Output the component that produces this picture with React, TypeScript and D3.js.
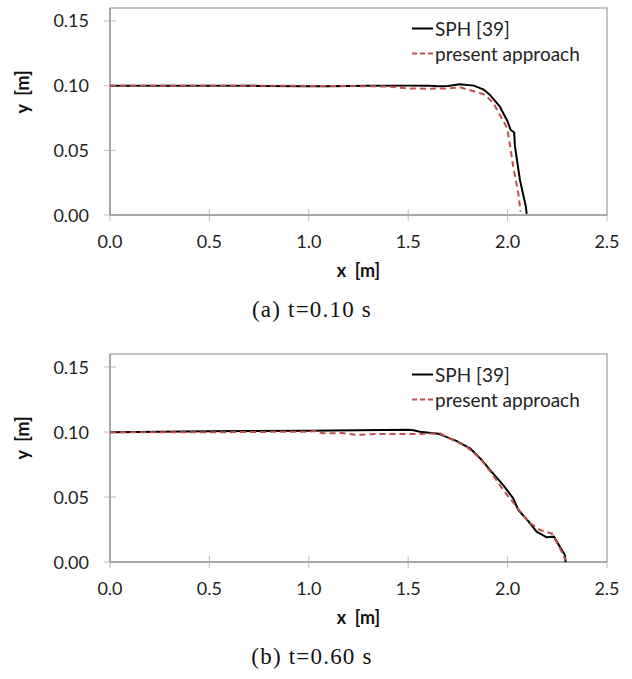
import React from 'react';
import * as d3 from 'd3';

// panel (a) t = 0.10 s
const sphAX = [0, 0.25, 0.5, 0.75, 1.0, 1.05, 1.1, 1.3, 1.5, 1.6, 1.65, 1.7, 1.76, 1.83, 1.88, 1.91, 1.96, 2.0, 2.015, 2.033, 2.037, 2.062, 2.092, 2.096];
const sphAY = [0.1, 0.1, 0.1, 0.0998, 0.0996, 0.0995, 0.0996, 0.0999, 0.1, 0.1, 0.0995, 0.0998, 0.101, 0.1, 0.097, 0.093, 0.084, 0.0723, 0.0659, 0.0638, 0.053, 0.0271, 0.0064, 0.0008];
const presAX = [0, 0.5, 1.0, 1.2, 1.3, 1.4, 1.5, 1.6, 1.7, 1.76, 1.83, 1.886, 1.928, 1.97, 1.998, 2.008, 2.028, 2.054, 2.065];
const presAY = [0.1, 0.1, 0.0998, 0.0997, 0.0995, 0.0993, 0.0978, 0.0976, 0.0979, 0.0987, 0.0956, 0.093, 0.0866, 0.075, 0.067, 0.058, 0.0375, 0.0168, 0.0026];

// panel (b) t = 0.60 s
const sphBX = [0, 0.5, 1.0, 1.5, 1.526, 1.559, 1.651, 1.744, 1.811, 1.87, 1.911, 1.978, 2.028, 2.054, 2.104, 2.146, 2.196, 2.233, 2.263, 2.288, 2.292];
const sphBY = [0.0998, 0.1005, 0.101, 0.1018, 0.1013, 0.1002, 0.0987, 0.093, 0.0874, 0.0785, 0.0708, 0.0592, 0.049, 0.04, 0.0315, 0.0233, 0.019, 0.0195, 0.0118, 0.0054, 0];
const presBX = [0, 0.5, 1.0, 1.03, 1.07, 1.17, 1.24, 1.35, 1.55, 1.66, 1.71, 1.794, 1.861, 1.92, 1.978, 2.045, 2.104, 2.163, 2.222, 2.255, 2.292];
const presBY = [0.0998, 0.0998, 0.1003, 0.1008, 0.099, 0.0992, 0.0978, 0.0985, 0.0985, 0.099, 0.095, 0.0887, 0.0797, 0.0682, 0.0554, 0.0425, 0.031, 0.0246, 0.022, 0.0131, 0.0015];

const xTicks = [0, 0.5, 1.0, 1.5, 2.0, 2.5];
const yTicks = [0, 0.05, 0.1, 0.15];
const legendLabels = ['SPH [39]', 'present approach'];

const FONT = 'Lato, "Open Sans", sans-serif';
const RED = '#c0504d';

const Panel = ({ top, bottom, sx, sy, px, py, caption }) => {
  const left = 110;
  const right = 607;
  const x = d3.scaleLinear().domain([0, 2.5]).range([left, right]);
  const y = d3.scaleLinear().domain([0, 0.16]).range([bottom, top]);
  const line = d3.line().x(d => x(d[0])).y(d => y(d[1]));
  const sph = sx.map((v, i) => [v, sy[i]]);
  const pres = px.map((v, i) => [v, py[i]]);

  return (
    <g>
      <rect x={left} y={top} width={right - left} height={bottom - top} fill="white" stroke="#8c8c8c" strokeWidth={1} />
      {/* ticks */}
      {xTicks.map(t => (
        <g key={'x' + t}>
          <line x1={x(t)} x2={x(t)} y1={bottom - 6} y2={bottom + 6} stroke="#bdbdbd" />
          <text x={x(t)} y={bottom + 33} textAnchor="middle" fontSize={18} fontFamily={FONT} fill="#222">
            {d3.format('.1f')(t)}
          </text>
        </g>
      ))}
      {yTicks.map(t => (
        <g key={'y' + t}>
          <line x1={left - 6} x2={left + 6} y1={y(t)} y2={y(t)} stroke="#bdbdbd" />
          <text x={89} y={y(t) + 6.5} textAnchor="end" fontSize={18} fontFamily={FONT} fill="#222">
            {d3.format('.2f')(t)}
          </text>
        </g>
      ))}
      <line x1={left} x2={right} y1={bottom} y2={bottom} stroke="#8c8c8c" />
      <line x1={left} x2={left} y1={top} y2={bottom} stroke="#8c8c8c" />

      <path d={line(sph)} fill="none" stroke="#000" strokeWidth={2} />
      <path d={line(pres)} fill="none" stroke={RED} strokeWidth={2} strokeDasharray="6,4" />

      {/* legend */}
      <line x1={412} x2={433} y1={top + 20.5} y2={top + 20.5} stroke="#000" strokeWidth={2} />
      <text x={435} y={top + 27.5} fontSize={19} fontFamily={FONT} fill="#222">{legendLabels[0]}</text>
      <line x1={412} x2={433} y1={top + 45.5} y2={top + 45.5} stroke={RED} strokeWidth={2} strokeDasharray="5,3" />
      <text x={435} y={top + 52.5} fontSize={19} fontFamily={FONT} fill="#222">{legendLabels[1]}</text>

      {/* axis titles */}
      <text x={(left + right) / 2} y={bottom + 62} textAnchor="middle" fontSize={18} fontWeight="bold" fontFamily={FONT} fill="#111">
        {'x\u00a0\u00a0[m]'}
      </text>
      <text transform={`translate(28.5, ${top + 84}) rotate(-90)`} textAnchor="middle" fontSize={18} fontWeight="bold" fontFamily={FONT} fill="#111">
        {'y\u00a0\u00a0[m]'}
      </text>
      <text x={312} y={bottom + 101.5} textAnchor="middle" fontSize={23} letterSpacing={1.2} fontFamily='"Liberation Serif", "DejaVu Serif", serif' fill="#111">
        {caption}
      </text>
    </g>
  );
};

export default function App() {
  return (
    <svg width={632} height={679} style={{ position: 'absolute', left: 0, top: 0, background: 'white' }}>
      <Panel top={8} bottom={215} sx={sphAX} sy={sphAY} px={presAX} py={presAY} caption="(a) t=0.10 s" />
      <Panel top={354} bottom={562} sx={sphBX} sy={sphBY} px={presBX} py={presBY} caption="(b) t=0.60 s" />
    </svg>
  );
}
